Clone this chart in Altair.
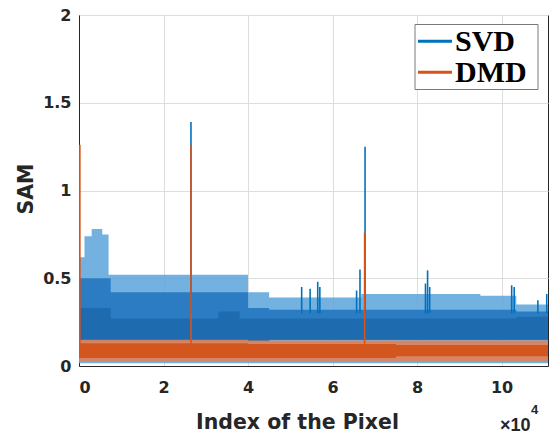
import altair as alt
import pandas as pd

# ---- SVD envelope (step segments along the pixel index) ----
svd_x     = [0,    1300, 3000, 5500, 7000, 7500, 33000, 38000, 40000, 45000, 66800, 95000, 103500, 111000]
svd_tip   = [0.62, 0.74, 0.78, 0.75, 0.52, 0.52, 0.52,  0.52,  0.42,  0.39,  0.41,  0.40,  0.35,   0.35]
svd_mid   = [0.50, 0.50, 0.50, 0.50, 0.50, 0.42, 0.42,  0.42,  0.33,  0.32,  0.32,  0.32,  0.31,   0.31]
svd_core  = [0.33, 0.33, 0.33, 0.33, 0.33, 0.27, 0.31,  0.27,  0.27,  0.27,  0.27,  0.27,  0.28,   0.28]
svd_base  = [0.14, 0.14, 0.14, 0.14, 0.14, 0.14, 0.14,  0.14,  0.14,  0.15,  0.15,  0.15,  0.15,   0.15]
svd_floor = [0.015, 0.015, 0.015, 0.015, 0.015, 0.015, 0.015, 0.015, 0.015, 0.015, 0.015, 0.015, 0.015, 0.015]

# ---- DMD envelope ----
dmd_x       = [0,     40000, 75000, 111000]
dmd_top     = [0.150, 0.145, 0.145, 0.145]
dmd_core_hi = [0.130, 0.125, 0.120, 0.120]
dmd_core_lo = [0.045, 0.045, 0.055, 0.055]
dmd_floor   = [0.025, 0.025, 0.025, 0.025]

# ---- isolated spikes ----
svd_spike_x   = [26500, 52700, 54700, 56500, 57000, 65700, 66500, 67700, 82000, 82500, 83000, 102400, 103000, 108600, 110700]
svd_spike_top = [1.39,  0.45,  0.44,  0.48,  0.45,  0.43,  0.55,  1.25,  0.47,  0.545, 0.45,  0.46,   0.45,   0.375,  0.41]
dmd_spike_x   = [200,  26500, 67600]
dmd_spike_top = [1.26, 1.26,  0.76]

series = ["SVD", "DMD"]
series_colors = ["#0072BD", "#D95319"]

svd = pd.DataFrame({"pixel": svd_x, "tip": svd_tip, "mid": svd_mid, "core": svd_core,
                    "base": svd_base, "floor": svd_floor})
dmd = pd.DataFrame({"pixel": dmd_x, "top": dmd_top, "hi": dmd_core_hi, "lo": dmd_core_lo,
                    "floor": dmd_floor})
spikes = pd.DataFrame({
    "pixel": svd_spike_x + dmd_spike_x,
    "top": svd_spike_top + dmd_spike_top,
    "bottom": [0.3] * len(svd_spike_x) + [0.1] * len(dmd_spike_x),
    "method": ["SVD"] * len(svd_spike_x) + ["DMD"] * len(dmd_spike_x),
})

FONT = "DejaVu Sans"
LEGEND_FONT = "Liberation Serif"

x_scale = alt.Scale(domain=[0, 111000], nice=False, zero=False)
y_scale = alt.Scale(domain=[0, 2], nice=False)
color_scale = alt.Scale(domain=series, range=series_colors)

x_axis = alt.Axis(
    values=[0, 20000, 40000, 60000, 80000, 100000],
    labelExpr="format(datum.value / 10000, 'd')",
    title="Index of the Pixel", titleX=218, titleY=62, titleBaseline="alphabetic",
    titleAnchor="start", titleAlign="center",
)
y_axis = alt.Axis(
    values=[0, 0.5, 1, 1.5, 2], format="~g",
    title="SAM", titleX=-47, titleY=173.5, titleAngle=270,
    titleAlign="center", titleBaseline="alphabetic",
)

def band(df, top, bottom, color, opacity=1.0):
    return alt.Chart(df).mark_area(interpolate="step-after", color=color, opacity=opacity).encode(
        x=alt.X("pixel:Q", scale=x_scale, axis=x_axis),
        y=alt.Y(f"{top}:Q", scale=y_scale, axis=y_axis),
        y2=alt.Y2(f"{bottom}:Q"),
    )

svd_tip_band = band(svd, "tip", "floor", "#5aa3dc", 0.85)
svd_mid_band = band(svd, "mid", "base", "#2c7cc3")
svd_core_band = band(svd, "core", "base", "#1e6bb0")
dmd_outer = band(dmd, "top", "floor", "#e0825a", 0.9)
dmd_core = band(dmd, "hi", "lo", "#d4561f")

spike_rules = alt.Chart(spikes).mark_rule(strokeWidth=1.6).encode(
    x=alt.X("pixel:Q", scale=x_scale, axis=x_axis),
    y=alt.Y("top:Q", scale=y_scale, axis=y_axis),
    y2="bottom:Q",
    color=alt.Color("method:N", scale=color_scale, legend=None),
)

# legend box in the upper right corner
legend_layers = [
    alt.Chart(pd.DataFrame({"k": [0]})).mark_rect(
        fill="#ffffff", stroke="#7a7a7a", strokeWidth=1
    ).encode(x=alt.value(336), x2=alt.value(459), y=alt.value(9.5), y2=alt.value(74.5))
]
line_rows = [26.2, 57.2]
text_rows = [35.5, 67.0]
for name, col, ly, ty in zip(series, series_colors, line_rows, text_rows):
    legend_layers.append(
        alt.Chart(pd.DataFrame({"method": [name]})).mark_rule(strokeWidth=3, color=col).encode(
            x=alt.value(339), x2=alt.value(373), y=alt.value(ly)
        )
    )
    legend_layers.append(
        alt.Chart(pd.DataFrame({"method": [name]})).mark_text(
            font=LEGEND_FONT, fontWeight="bold", fontSize=30, align="left",
            baseline="alphabetic", color="#000000"
        ).encode(x=alt.value(376), y=alt.value(ty), text="method:N")
    )

exp_base = alt.Chart(pd.DataFrame({"t": ["×10"]})).mark_text(
    font="Liberation Sans", fontWeight="bold", fontSize=18, align="left", baseline="alphabetic", color="#262626"
).encode(text="t:N", x=alt.value(421), y=alt.value(415.5))
exp_pow = alt.Chart(pd.DataFrame({"t": ["4"]})).mark_text(
    font="Liberation Sans", fontWeight="bold", fontSize=13, align="left", baseline="alphabetic", color="#262626"
).encode(text="t:N", x=alt.value(452), y=alt.value(399))

chart = alt.layer(
    svd_tip_band, svd_mid_band, svd_core_band, dmd_outer, dmd_core, spike_rules,
    *legend_layers, exp_base, exp_pow
).properties(
    width=469, height=351,
    autosize=alt.AutoSizeParams(type="none"),
    padding={"left": 79, "top": 15, "right": 2, "bottom": 68},
).configure_view(
    stroke="#262626", strokeWidth=1,
).configure_axis(
    labelFont=FONT, labelFontWeight="bold", labelFontSize=16, labelColor="#262626",
    titleFont=FONT, titleFontWeight="bold", titleFontSize=20.5, titleColor="#262626",
    domainColor="#262626", gridColor="#dedede", gridWidth=1, grid=True,
    tickSize=0,
).configure_axisX(
    labelPadding=13,
).configure_axisY(
    labelPadding=8,
)

chart.save("out.html", embed_options={"renderer": "svg", "actions": False})
